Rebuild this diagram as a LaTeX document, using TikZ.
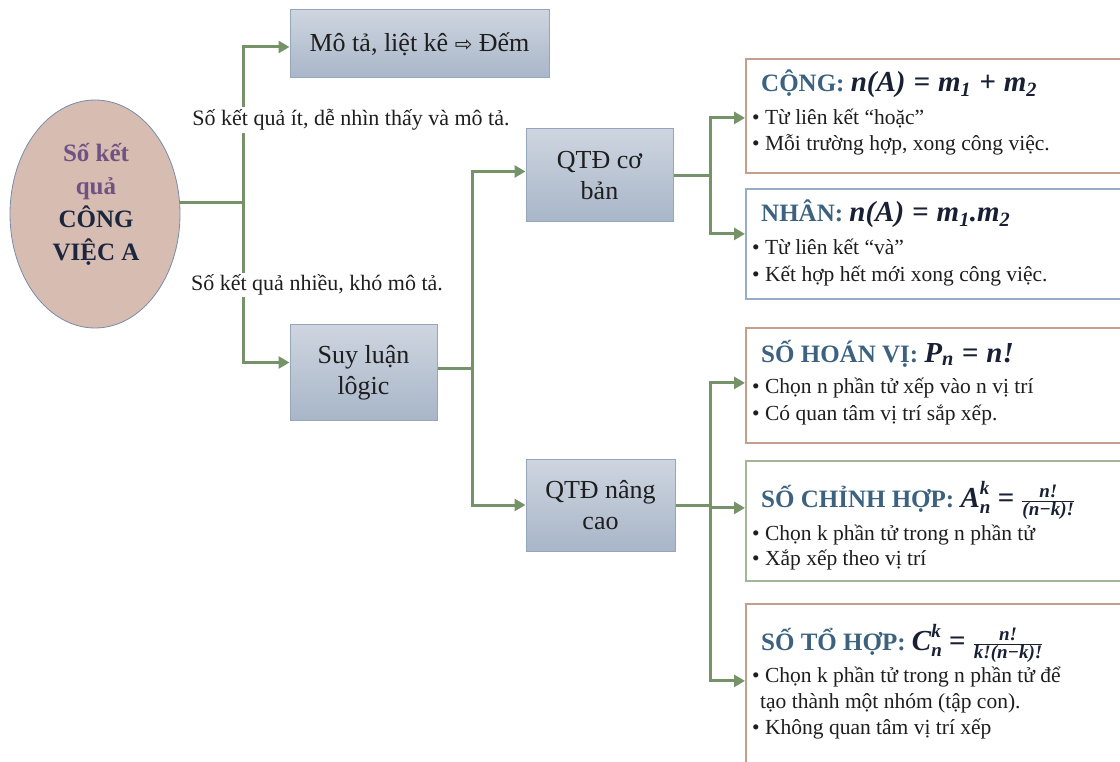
\documentclass[tikz,border=0pt]{standalone}
\usepackage{fontspec}
\setmainfont{Liberation Serif}
\newfontfamily\dejavu{DejaVu Sans}
\usetikzlibrary{arrows.meta,shapes.geometric}
\definecolor{boxtop}{RGB}{206,213,224}
\definecolor{boxbot}{RGB}{168,182,200}
\definecolor{boxdraw}{RGB}{150,165,186}
\definecolor{ellfill}{RGB}{215,188,178}
\definecolor{elldraw}{RGB}{120,140,172}
\definecolor{connc}{RGB}{118,146,104}
\definecolor{brownb}{RGB}{196,160,140}
\definecolor{blueb}{RGB}{150,172,200}
\definecolor{greenb}{RGB}{165,182,150}
\definecolor{headc}{RGB}{60,98,128}
\definecolor{mathc}{RGB}{25,32,52}
\definecolor{purp}{RGB}{112,82,130}
\definecolor{navy}{RGB}{28,38,62}
\definecolor{txt}{RGB}{30,30,30}
\newcommand\sbi[1]{\hbox{\fontsize{19}{19}\selectfont\bfseries\itshape #1}}
\newcommand\mth[1]{{\color{mathc}\fontsize{29}{29}\selectfont\itshape #1}}
\newcommand\op[1]{\hspace{8pt}#1\hspace{8pt}}
\begin{document}
\begin{tikzpicture}[x=1pt,y=-1pt,
  mainbox/.style={draw=boxdraw, line width=1pt, top color=boxtop, bottom color=boxbot,
    align=center, text=txt, font=\fontsize{26}{31}\selectfont, inner sep=0pt},
  lbl/.style={fill=white, text=txt, font=\fontsize{22}{26}\selectfont, inner sep=2pt},
  rbox/.style={draw, line width=1.8pt, fill=white, minimum width=420, anchor=north west, inner sep=0pt},
  head/.style={anchor=base west, text=headc, font=\bfseries\fontsize{25}{28}\selectfont, inner sep=0pt},
  bul/.style={anchor=base west, text=txt, font=\fontsize{21.5}{25}\selectfont, inner sep=0pt},
  link/.style={draw=connc, line width=3pt},
  arr/.style={link, -{Triangle[length=11pt,width=12pt]}}
]
\useasboundingbox (0,0) rectangle (1120,762);
\clip (0,0) rectangle (1120,762);

% ellipse
\node[ellipse, draw=elldraw, line width=0.8pt, fill=ellfill, minimum width=170, minimum height=228] (ell) at (95,214) {};
\node[align=center, font=\bfseries\fontsize{25}{33}\selectfont, inner sep=0pt] (elltext) at (96,204)
  {\textcolor{purp}{Số kết}\\\textcolor{purp}{quả}\\\textcolor{navy}{CÔNG}\\\textcolor{navy}{VIỆC A}};

% main boxes
\node[mainbox, minimum width=259, minimum height=68] (mota) at (419.5,44) {Mô tả, liệt kê {\dejavu\fontsize{21}{24}\selectfont ⇨} Đếm};
\node[mainbox, minimum width=147, minimum height=95] (suy) at (363.5,372.5) {Suy luận\\lôgic};
\node[mainbox, minimum width=147, minimum height=93] (qtd1) at (599.5,175.5) {QTĐ cơ\\bản};
\node[mainbox, minimum width=149, minimum height=92] (qtd2) at (600.5,505) {QTĐ nâng\\cao};

% right boxes
\node[rbox, draw=brownb, minimum height=114] (cong) at (745,58) {};
\node[rbox, draw=blueb, minimum height=110] (nhan) at (745,188) {};
\node[rbox, draw=brownb, minimum height=115] (hoan) at (745,327) {};
\node[rbox, draw=greenb, minimum height=120] (chinh) at (745,460) {};
\node[rbox, draw=brownb, minimum height=200] (tohop) at (745,603) {};

% junctions
\coordinate (xa) at (243,0);
\coordinate (xb) at (472,0);
\coordinate (xc) at (710,0);
\coordinate (j1) at (ell.8 -| xa);
\coordinate (j2) at ([yshift=4pt]suy.east -| xb);
\coordinate (j3) at (qtd1.east -| xc);
\coordinate (j4) at (qtd2.east -| xc);

% connectors
\draw[link] (ell.8) -- (j1);
\draw[arr] (j1) |- ([yshift=-3pt]mota.west);
\draw[arr] (j1) |- ([yshift=10pt]suy.west);
\draw[link] ([yshift=4pt]suy.east) -- (j2);
\draw[arr] (j2) |- ([yshift=4pt]qtd1.west);
\draw[arr] (j2) |- (qtd2.west);
\draw[link] (qtd1.east) -- (j3);
\draw[arr] (j3) |- ([yshift=-2pt]cong.west);
\draw[arr] (j3) |- ([yshift=10pt]nhan.west);
\draw[link] (qtd2.east) -- (j4);
\draw[arr] (j4) |- ([yshift=2.5pt]hoan.west);
\draw[arr] (j4) |- ([yshift=13pt]chinh.west);
\draw[arr] (j4) |- ([yshift=23pt]tohop.west);

% labels on the connector
\node[lbl] (l1) at (351,120) {Số kết quả ít, dễ nhìn thấy và mô tả.};
\node[lbl] (l2) at (317,285) {Số kết quả nhiều, khó mô tả.};

% box contents
\node[head] (hcong) at (761,92) {CỘNG: \mth{n(A)\op{=}m\textsubscript{1}\op{+}m\textsubscript{2}}};
\node[bul] (c1) at (752,125) {• Từ liên kết “hoặc”};
\node[bul] (c2) at (752,151) {• Mỗi trường hợp, xong công việc.};

\node[head] (hnhan) at (761,222) {NHÂN: \mth{n(A)\op{=}m\textsubscript{1}.m\textsubscript{2}}};
\node[bul] (n1) at (752,255) {• Từ liên kết “và”};
\node[bul] (n2) at (752,282) {• Kết hợp hết mới xong công việc.};

\node[head] (hhoan) at (761,362) {SỐ HOÁN VỊ: \mth{P\textsubscript{n}\op{=}n!}};
\node[bul] (h1) at (752,393) {• Chọn n phần tử xếp vào n vị trí};
\node[bul] (h2) at (752,420) {• Có quan tâm vị trí sắp xếp.};

\node[head] (hchinh) at (761,507) {SỐ CHỈNH HỢP: {\color{mathc}$\hbox{\fontsize{29}{29}\selectfont\itshape A}^{\sbi{k}}_{\sbi{n}}\mathrel{\hbox{\fontsize{29}{29}\selectfont =}}\frac{\sbi{n!}}{\sbi{(n−k)!}}$}};
\node[bul] (k1) at (752,540) {• Chọn k phần tử trong n phần tử};
\node[bul] (k2) at (752,565) {• Xắp xếp theo vị trí};

\node[head] (htohop) at (761,650) {SỐ TỔ HỢP: {\color{mathc}$\hbox{\fontsize{29}{29}\selectfont\itshape C}^{\sbi{k}}_{\sbi{n}}\mathrel{\hbox{\fontsize{29}{29}\selectfont =}}\frac{\sbi{n!}}{\sbi{k!(n−k)!}}$}};
\node[bul] (t1) at (752,682) {• Chọn k phần tử trong n phần tử để};
\node[bul] (t2) at (760,708) {tạo thành một nhóm (tập con).};
\node[bul] (t3) at (752,734) {• Không quan tâm vị trí xếp};
\end{tikzpicture}
\end{document}
